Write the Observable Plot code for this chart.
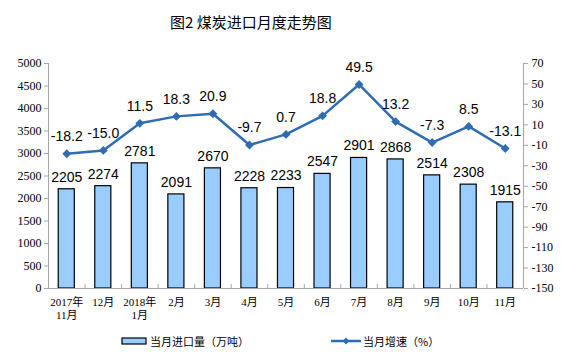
<!DOCTYPE html>
<html><head><meta charset="utf-8">
<script src="https://cdn.jsdelivr.net/npm/d3@7"></script>
<script src="https://cdn.jsdelivr.net/npm/@observablehq/plot@0.6"></script>
<style>
body{margin:0;background:#fff;width:561px;height:357px;position:relative;overflow:hidden}
#title{position:absolute;top:11px;left:170px;font:15px "Noto Sans CJK SC",sans-serif;color:#000;white-space:nowrap}
#chart{position:absolute;top:0;left:0}
.item{position:absolute;top:333px;display:flex;align-items:center;font:11px "Noto Sans CJK SC",sans-serif;color:#000;white-space:nowrap}
</style></head><body>
<div id="title">图2 煤炭进口月度走势图</div>
<div id="chart"></div>
<div class="item" style="left:121px"><svg width="27" height="8"><rect x="1" y="1" width="24" height="6" fill="#99CCFF" stroke="#000" stroke-width="1.2"/></svg><span style="margin-left:2px">当月进口量（万吨）</span></div>
<div class="item" style="left:331px"><svg width="30" height="10"><line x1="0" y1="5" x2="30" y2="5" stroke="#2E6DB4" stroke-width="2.5"/><path d="M15,1.5L18.5,5L15,8.5L11.5,5Z" fill="#2E6DB4"/></svg><span style="margin-left:2px">当月增速（%）</span></div>
<script>
const months = ["2017年\n11月","12月","2018年\n1月","2月","3月","4月","5月","6月","7月","8月","9月","10月","11月"];
const imports = [2205,2274,2781,2091,2670,2228,2233,2547,2901,2868,2514,2308,1915];
const growth = [-18.2,-15.0,11.5,18.3,20.9,-9.7,0.7,18.8,49.5,13.2,-7.3,8.5,-13.1];
const leftTicks = d3.range(0,5001,500);
const rightTicks = d3.range(-150,71,20);

const toLeft = v => (v + 150) / 220 * 5000;
const fromLeft = y => Math.round(y / 5000 * 220 - 150);
const data = months.map((m,i)=>({i, m, v: imports[i], g: growth[i], gy: toLeft(growth[i])}));
const bounds = d3.range(-0.5, months.length, 1);
const lineColor = "#2E6DB4";
const gray = "#A6A6A6";

const plot = Plot.plot({
  width: 561, height: 322,
  marginTop: 63, marginBottom: 34, marginLeft: 48, marginRight: 38,
  style: {fontFamily: '"Liberation Serif","Noto Sans CJK SC",serif', fontSize: "11px", color: "#000", background: "transparent"},
  x: {type: "linear", domain: [-0.5, months.length - 0.5], axis: null},
  y: {domain: [0, 5000], axis: null},
  marks: [
    Plot.rectY(data, {x1: d => d.i - 0.22, x2: d => d.i + 0.22, y: "v", fill: "#99CCFF", stroke: "#000", strokeWidth: 1.2}),
    Plot.ruleX([-0.5, months.length - 0.5], {stroke: gray}),
    Plot.ruleY([0], {stroke: gray}),
    Plot.axisY(leftTicks, {anchor: "left", tickSize: 4, tickPadding: 3, stroke: gray, label: null, fontSize: 12, tickFormat: d => String(d)}),
    Plot.axisY(rightTicks.map(toLeft), {anchor: "right", tickSize: 4, tickPadding: 4, stroke: gray, label: null, fontSize: 12, tickFormat: d => String(fromLeft(d))}),
    Plot.axisX(bounds, {anchor: "bottom", tickSize: -4, stroke: gray, tickFormat: () => "", label: null}),
    Plot.axisX(data.map(d => d.i), {anchor: "bottom", tickSize: 0, tickPadding: 8, label: null, tickFormat: i => months[i], lineHeight: 1.2}),
    Plot.text(data, {x: "i", y: "v", text: d => String(d.v), dy: -12, fontFamily: '"Liberation Sans",Arial,sans-serif', fontSize: 14, fill: "#000"}),
    Plot.line(data, {x: "i", y: "gy", stroke: lineColor, strokeWidth: 2.5}),
    Plot.dot(data, {x: "i", y: "gy", symbol: "diamond2", r: 4, fill: lineColor, stroke: "none"}),
    Plot.text(data, {x: "i", y: "gy", text: d => d.g.toFixed(1), dy: -17, fontFamily: '"Liberation Sans",Arial,sans-serif', fontSize: 14, fill: "#000"})
  ]
});
document.getElementById("chart").appendChild(plot);
</script>
</body></html>
